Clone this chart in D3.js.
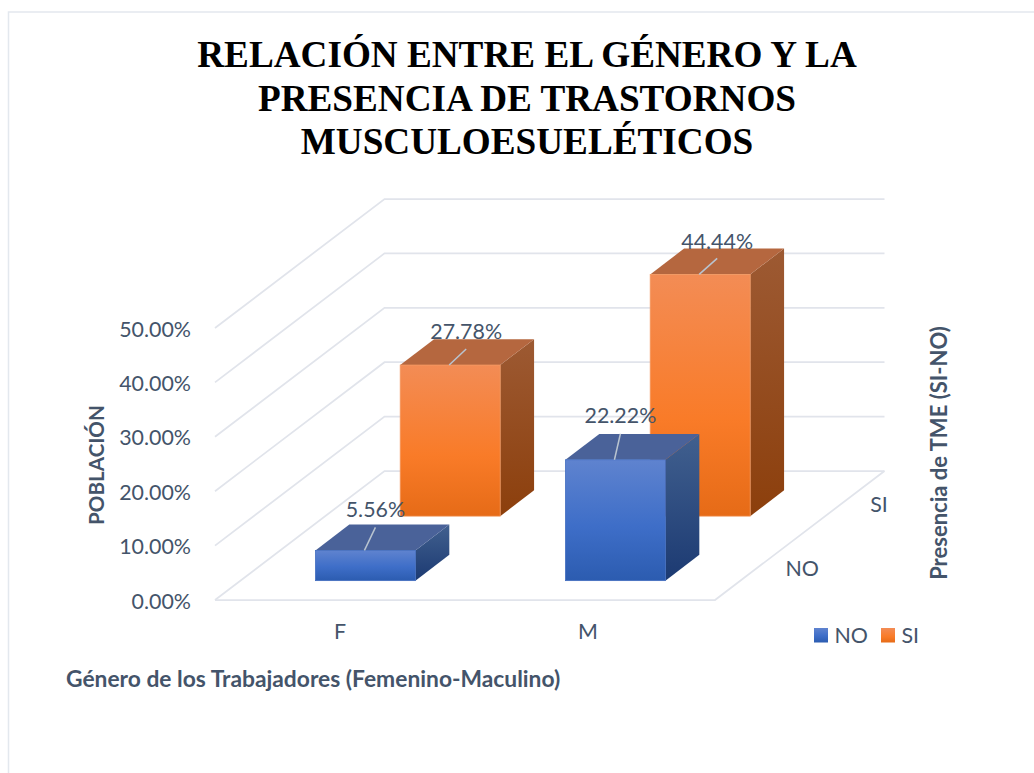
<!DOCTYPE html>
<html>
<head>
<meta charset="utf-8">
<script src="https://cdn.jsdelivr.net/npm/d3@7"></script>
<style>
    html, body { margin: 0; padding: 0; background: #fff; }
    svg { display: block; }
    text { font-family: Lato, "Open Sans", sans-serif; fill: #44546A; }
    .title { font-family: "Liberation Serif", serif; font-weight: bold; font-size: 37.2px; fill: #000; }
    .axis-title { font-weight: bold; font-size: 22px; }
    .tick-label { font-size: 21.4px; }
</style>
</head>
<body>
<svg id="chart" width="1034" height="773"></svg>
<script>
const titleLines = ["RELACIÓN ENTRE EL GÉNERO Y LA", "PRESENCIA DE TRASTORNOS", "MUSCULOESUELÉTICOS"];
const generos = ["F", "M"];
const presencia = ["NO", "SI"];
const valoresNO = [5.56, 22.22];
const valoresSI = [27.78, 44.44];
const yDomain = [0, 50];

const svg = d3.select("#chart");

// floor corner and how far the back wall is pushed from the front
const originX = 215, originY = 600;
const depthX = 169.5, depthY = -129;

const x = d3.scaleBand().domain(generos).range([0, 500]).paddingInner(0.6).paddingOuter(0.3);
const z = d3.scaleBand().domain(presencia).range([0, 1]).paddingInner(0.6).paddingOuter(0.3);
const y = d3.scaleLinear().domain(yDomain).range([0, 272]);

// oblique projection: px along x, value height, z depth (0 front, 1 back)
function project(px, h, d) {
    return [originX + px + d * depthX, originY - h + d * depthY];
}

function poly(points) {
    return "M" + points.map(p => p.join(",")).join("L") + "Z";
}

// ========== GRADIENTS ==========

const defs = svg.append("defs");

function addGradient(id, stops, horizontal) {
    const g = defs.append("linearGradient").attr("id", id)
        .attr("x1", "0%").attr("y1", "0%")
        .attr("x2", horizontal ? "100%" : "0%").attr("y2", "100%");
    stops.forEach(s => g.append("stop").attr("offset", s[0]).attr("stop-color", s[1]));
}

addGradient("front-NO", [["0%", "#5F83CF"], ["55%", "#3E6EC8"], ["100%", "#2C5CB0"]]);
addGradient("front-SI", [["0%", "#F38C55"], ["60%", "#F97B28"], ["100%", "#E66B17"]]);
addGradient("side-NO", [["0%", "#41608F"], ["100%", "#1C3A72"]]);
addGradient("side-SI", [["0%", "#9D5A33"], ["100%", "#8C3F0C"]]);

const topColor = { NO: "#4A6299", SI: "#B5673F" };
const edgeColor = { NO: "#3F6BBF", SI: "#F49A62" };

// ========== FRAME ==========

svg.append("path")
    .attr("d", "M8.5,773V12H1034")
    .attr("fill", "none")
    .attr("stroke", "#E3E8EE")
    .attr("stroke-width", 1.5);

// ========== TITLE ==========

svg.selectAll("text.title").data(titleLines).enter().append("text")
    .attr("class", "title")
    .attr("x", 527)
    .attr("y", (d, i) => 67 + i * 43.5)
    .attr("text-anchor", "middle")
    .text(d => d);

// ========== WALLS AND FLOOR ==========

const grid = svg.append("g").attr("fill", "none").attr("stroke", "#E1E4EB").attr("stroke-width", 1.75);

y.ticks(5).forEach(t => {
    const a = project(0, y(t), 0), b = project(0, y(t), 1), c = project(500, y(t), 1);
    grid.append("path").attr("d", "M" + [a, b, c].map(p => p.join(",")).join("L"));
});

grid.append("path").attr("d", "M" + [project(0, 0, 0), project(500, 0, 0), project(500, 0, 1)]
    .map(p => p.join(",")).join("L"));

svg.selectAll("text.y-label").data(y.ticks(5)).enter().append("text")
    .attr("class", "tick-label")
    .attr("x", 191)
    .attr("y", d => project(0, y(d), 0)[1] + 8.5)
    .attr("text-anchor", "end")
    .text(d => d3.format(".2f")(d) + "%");

// ========== BARS ==========

const bars = [];
presencia.slice().reverse().forEach(serie => {
    const values = serie === "NO" ? valoresNO : valoresSI;
    generos.forEach((g, i) => bars.push({ serie: serie, genero: g, value: values[i] }));
});

// offsets of the data labels from the middle of the front top edge
const labelOffset = {
    "NO-F": [10, -33], "NO-M": [5, -37],
    "SI-F": [16, -26], "SI-M": [17, -25]
};
const leaderEnd = {
    "NO-F": [10, -23], "NO-M": [5, -26],
    "SI-F": [16, -16], "SI-M": [17, -16]
};

bars.forEach(d => {
    const x0 = x(d.genero), x1 = x0 + x.bandwidth();
    const z0 = z(d.serie), z1 = z0 + z.bandwidth();
    const h = y(d.value);
    const g = svg.append("g");

    g.append("path")
        .attr("d", poly([project(x1, 0, z0), project(x1, 0, z1), project(x1, h, z1), project(x1, h, z0)]))
        .attr("fill", "url(#side-" + d.serie + ")");
    g.append("path")
        .attr("d", poly([project(x0, h, z0), project(x1, h, z0), project(x1, h, z1), project(x0, h, z1)]))
        .attr("fill", topColor[d.serie]);
    const f = project(x0, h, z0);
    g.append("rect")
        .attr("x", f[0]).attr("y", f[1])
        .attr("width", x.bandwidth()).attr("height", h)
        .attr("fill", "url(#front-" + d.serie + ")")
        .attr("stroke", edgeColor[d.serie])
        .attr("stroke-width", 0.75);

    const key = d.serie + "-" + d.genero;
    const cx = f[0] + x.bandwidth() / 2;
    g.append("line")
        .attr("x1", cx - 1).attr("y1", f[1])
        .attr("x2", cx + leaderEnd[key][0]).attr("y2", f[1] + leaderEnd[key][1])
        .attr("stroke", "#B9C4D0").attr("stroke-width", 1.5);
    g.append("text")
        .attr("class", "tick-label")
        .attr("x", cx + labelOffset[key][0])
        .attr("y", f[1] + labelOffset[key][1])
        .attr("text-anchor", "middle")
        .text(d3.format(".2f")(d.value) + "%");
});

// ========== AXIS LABELS ==========

svg.selectAll("text.x-label").data(generos).enter().append("text")
    .attr("class", "tick-label")
    .attr("x", d => project(x(d) + x.bandwidth() / 2, 0, 0)[0] - (d === "M" ? 2 : 0))
    .attr("y", 639)
    .attr("text-anchor", "middle")
    .text(d => d);

svg.selectAll("text.z-label").data(presencia).enter().append("text")
    .attr("class", "tick-label")
    .attr("x", d => project(500, 0, z(d) + z.bandwidth() / 2)[0] + 28)
    .attr("y", d => project(500, 0, z(d) + z.bandwidth() / 2)[1] + 8.5)
    .attr("text-anchor", "start")
    .text(d => d);

svg.append("text").attr("class", "axis-title")
    .style("font-size", "20.6px")
    .attr("transform", "translate(104,465) rotate(-90)")
    .attr("text-anchor", "middle")
    .text("POBLACIÓN");

svg.append("text").attr("class", "axis-title")
    .attr("transform", "translate(947,453) rotate(-90)")
    .attr("text-anchor", "middle")
    .text("Presencia de TME (SI-NO)");

svg.append("text").attr("class", "axis-title")
    .style("font-size", "22.8px")
    .attr("x", 66)
    .attr("y", 687)
    .text("Género de los Trabajadores (Femenino-Maculino)");

// ========== LEGEND ==========

const legendX = d3.scaleOrdinal().domain(presencia).range([814, 881]);

presencia.forEach(s => {
    svg.append("rect")
        .attr("x", legendX(s)).attr("y", 628)
        .attr("width", 14).attr("height", 14.5)
        .attr("fill", "url(#front-" + s + ")");
    svg.append("text")
        .attr("class", "tick-label")
        .attr("x", legendX(s) + 20.5).attr("y", 643)
        .text(s);
});
</script>
</body>
</html>
